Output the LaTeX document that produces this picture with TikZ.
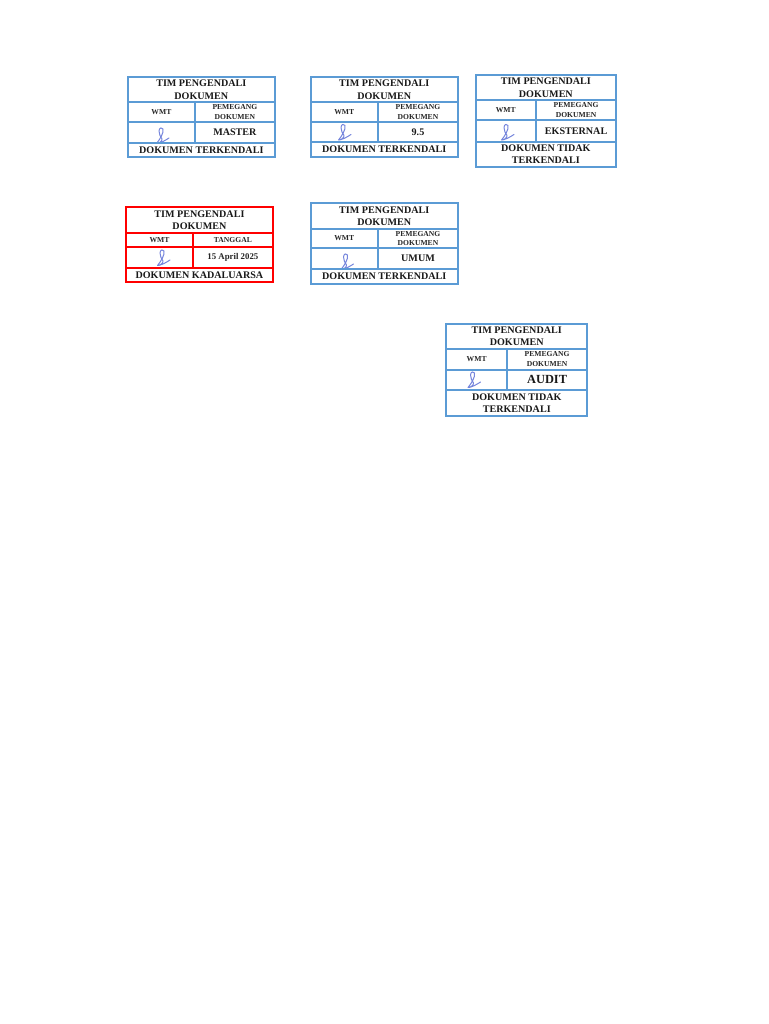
\documentclass[tikz,border=0pt]{standalone}
\usepackage{fontspec}
\setmainfont{Liberation Serif}
\definecolor{stampblue}{HTML}{5B9BD5}
\definecolor{stampred}{HTML}{FF0000}
\definecolor{inkblue}{HTML}{7585DC}
\tikzset{
  titletxt/.style={font=\bfseries\fontsize{10.1}{12.3}\selectfont,align=center,inner sep=0pt,text=black!90},
  smalltxt/.style={font=\bfseries\fontsize{7.6}{9.8}\selectfont,align=center,inner sep=0pt,text=black!85},
  valtxt/.style={font=\bfseries\fontsize{10.1}{12.3}\selectfont,align=center,inner sep=0pt,text=black!90},
  signature/.style={draw=inkblue,line width=1pt,line cap=round,line join=round}
}
% top of the signature stroke at (#1,#2)
\newcommand{\signmark}[2]{%
  \begin{scope}[shift={(#1,#2)}]
    \draw[signature] (-5,15.5) .. controls (-2,12) and (2.5,5) .. (1.5,1)
      .. controls (1,-1) and (-2.5,-0.5) .. (-2.5,3)
      .. controls (-2.5,6) and (-1,9) .. (0.5,11)
      .. controls (1,13) and (-3,16) .. (-5,15.5)
      .. controls (-2,15.5) and (3,13) .. (7.5,10);
  \end{scope}}
% #1 name, #2 x0, #3 xm, #4 x1, #5 y0, #6 y1, #7 y2, #8 y3, #9 y4
\newcommand{\stampgrid}[9]{%
  \draw[stampcol,line width=2pt] (#2,#6) -- (#4,#6) (#2,#7) -- (#4,#7) (#2,#8) -- (#4,#8)
     (#3,#6) -- (#3,#8);
  \draw[stampcol,line width=2pt] (#2,#5) rectangle (#4,#9);
  \coordinate (#1a) at ({(#2+#4)/2},{(#5+#6)/2});
  \coordinate (#1b) at ({(#2+#3)/2},{(#6+#7)/2});
  \coordinate (#1c) at ({(#3+#4)/2},{(#6+#7)/2});
  \coordinate (#1d) at ({(#3+#4)/2},{(#7+#8)/2});
  \coordinate (#1e) at ({(#2+#4)/2},{(#8+#9)/2});
  \node[titletxt] (#1title) at (#1a) {TIM PENGENDALI\\DOKUMEN};
  \node[smalltxt] (#1left) at (#1b) {WMT};
}
\begin{document}
\begin{tikzpicture}[x=1pt,y=-1pt]
\useasboundingbox[fill=white] (0,0) rectangle (768,1024);

\signmark{161.5}{128}
\signmark{343.5}{124.5}
\signmark{506.5}{124.5}
\signmark{162.5}{250}
\signmark{346}{254}
\signmark{473}{372}

\colorlet{stampcol}{stampblue}
\stampgrid{A}{127.8}{195}{274.8}{76.8}{102.5}{122}{143}{157.2}
\node[smalltxt] (Ar) at (Ac) {PEMEGANG\\DOKUMEN};
\node[valtxt] (Av) at (Ad) {MASTER};
\node[titletxt] (Af) at (Ae) {DOKUMEN TERKENDALI};

\stampgrid{B}{310.5}{378}{458}{76.8}{102.5}{122}{142.5}{156.8}
\node[smalltxt] (Br) at (Bc) {PEMEGANG\\DOKUMEN};
\node[valtxt] (Bv) at (Bd) {9.5};
\node[titletxt] (Bf) at (Be) {DOKUMEN TERKENDALI};

\stampgrid{C}{475.5}{536}{616.2}{74.8}{100.5}{120}{142}{166.8}
\node[smalltxt] (Cr) at (Cc) {PEMEGANG\\DOKUMEN};
\node[valtxt] (Cv) at (Cd) {EKSTERNAL};
\node[titletxt] (Cf) at (Ce) {DOKUMEN TIDAK\\TERKENDALI};

\colorlet{stampcol}{stampred}
\stampgrid{D}{126}{193}{272.8}{207.3}{233}{247}{268}{281.7}
\node[smalltxt] (Dr) at (Dc) {TANGGAL};
\node[smalltxt,font=\bfseries\fontsize{8.8}{10.2}\selectfont] (Dv) at (Dd) {15 April 2025};
\node[titletxt] (Df) at (De) {DOKUMEN KADALUARSA};

\colorlet{stampcol}{stampblue}
\stampgrid{E}{310.5}{378}{458}{203.3}{229}{248}{269}{283.8}
\node[smalltxt] (Er) at (Ec) {PEMEGANG\\DOKUMEN};
\node[valtxt] (Ev) at (Ed) {UMUM};
\node[titletxt] (Ef) at (Ee) {DOKUMEN TERKENDALI};

\stampgrid{F}{446.3}{507}{587.2}{323.8}{349}{369.5}{390}{415.8}
\node[smalltxt] (Fr) at (Fc) {PEMEGANG\\DOKUMEN};
\node[valtxt,font=\bfseries\fontsize{12.4}{14}\selectfont] (Fv) at (Fd) {AUDIT};
\node[titletxt] (Ff) at (Fe) {DOKUMEN TIDAK\\TERKENDALI};
\end{tikzpicture}
\end{document}
